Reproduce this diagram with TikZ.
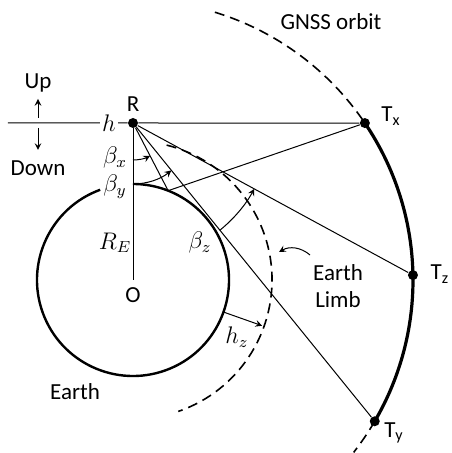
\documentclass[tikz,border=0pt]{standalone}
\usepackage{fontspec}
\setmainfont{Carlito}
\usetikzlibrary{positioning}
\newcommand{\rEarth}{96}
\newcommand{\rLimb}{139}
\newcommand{\rOrbit}{280}

\begin{document}
\begin{tikzpicture}[
    x=0.5pt, y=0.5pt,
    every node/.style={font=\fontsize{11.5}{13.5}\selectfont},
    mlabel/.style={font=\fontsize{12}{14}\selectfont, inner sep=1pt},
    ray/.style={draw=black, line width=0.5pt},
    earthline/.style={draw=black, line width=1.2pt},
    limbline/.style={draw=black, line width=0.8pt, dash pattern=on 5pt off 3pt},
    orbitline/.style={draw=black, line width=1.6pt},
    angarrow/.style={draw=black, line width=0.5pt, ->, >=stealth},
    dot/.style={circle, fill=black, inner sep=0pt, minimum size=5pt},
]
  \useasboundingbox (-133,-173) rectangle (318,280);
  % centre of the Earth, receiver and GNSS transmitters
  \coordinate (O) at (0,0);
  \node[dot] (R) at (0,157) {};
  \node[dot] (Tx) at (34.09:\rOrbit) {};
  \node[dot] (Tz) at (1:\rOrbit) {};
  \node[dot] (Ty) at (-30.3:\rOrbit) {};
  \coordinate (P) at (68.5:\rEarth);   % ray from Tx touching the Earth
  % Earth, Earth limb and GNSS orbit
  \draw[earthline] (110:\rEarth) arc[start angle=110, end angle=450, radius=\rEarth];
  \draw[limbline] (76:\rLimb) arc[start angle=76, end angle=-71, radius=\rLimb];
  \draw[limbline] (73:\rOrbit) arc[start angle=73, end angle=34.09, radius=\rOrbit];
  \draw[orbitline] (Tx.center) arc[start angle=34.09, end angle=-30.3, radius=\rOrbit];
  \draw[limbline] (Ty.center) arc[start angle=-30.3, end angle=-38, radius=\rOrbit];
  % local horizon through R
  \coordinate (hl) at (-125,157);
  \node[mlabel] (h) at (-24,157) {$h$};
  \draw[ray] (hl) -- (h) -- (R) -- (Tx);
  \draw[ray] (R) -- (O);
  % rays to the transmitters
  \draw[ray] (R) -- (P) -- (Tx);
  \draw[ray] (R) -- (Tz);
  \draw[ray] (R) -- (Ty);
  % angles measured at R
  \draw[angarrow] ([shift={(-90:37)}]R.center) arc[start angle=-90, end angle=-62.5, radius=37];
  \draw[angarrow] ([shift={(-90:61)}]R.center) arc[start angle=-90, end angle=-51, radius=61];
  \draw[angarrow] ([shift={(-51:138)}]R.center) arc[start angle=-51, end angle=-28.5, radius=138];
  % limb height
  \coordinate (hz1) at (-19.5:\rEarth);
  \coordinate (hz2) at (-19.5:137);
  \draw[angarrow] (hz1) -- (hz2);
  % up / down
  \coordinate (up1) at (-95,162);
  \coordinate (up2) at (-95,181);
  \coordinate (dn1) at (-95,152);
  \coordinate (dn2) at (-95,130);
  \draw[angarrow] (up1) -- (up2);
  \draw[angarrow] (dn1) -- (dn2);
  \node (uplab) at (-95,197) {Up};
  \node (dnlab) at (-95,112) {Down};
  % labels
  \node (Rlab) at (0,176) {R};
  \node (Olab) at (0,-15) {O};
  \node (Txlab) at (258,164) {T\textsubscript{x}};
  \node (Tzlab) at (307,6) {T\textsubscript{z}};
  \node (Tylab) at (261,-153) {T\textsubscript{y}};
  \node (orblab) at (198,258) {GNSS orbit};
  \node (earthlab) at (-58,-112) {Earth};
  \node[align=center] (limblab) at (205,-6) {Earth\\Limb};
  \coordinate (lm1) at (177,25);
  \coordinate (lm2) at (146,28);
  \draw[angarrow] (lm1) to[bend right=35] (lm2);
  \node[mlabel] (bx) at (-18,122) {$\beta_x$};
  \node[mlabel] (by) at (-18,93) {$\beta_y$};
  \node[mlabel] (re) at (-18,37) {$R_E$};
  \node[mlabel] (bz) at (67,37) {$\beta_z$};
  \node[mlabel] (hz) at (104,-57) {$h_z$};
\end{tikzpicture}
\end{document}
